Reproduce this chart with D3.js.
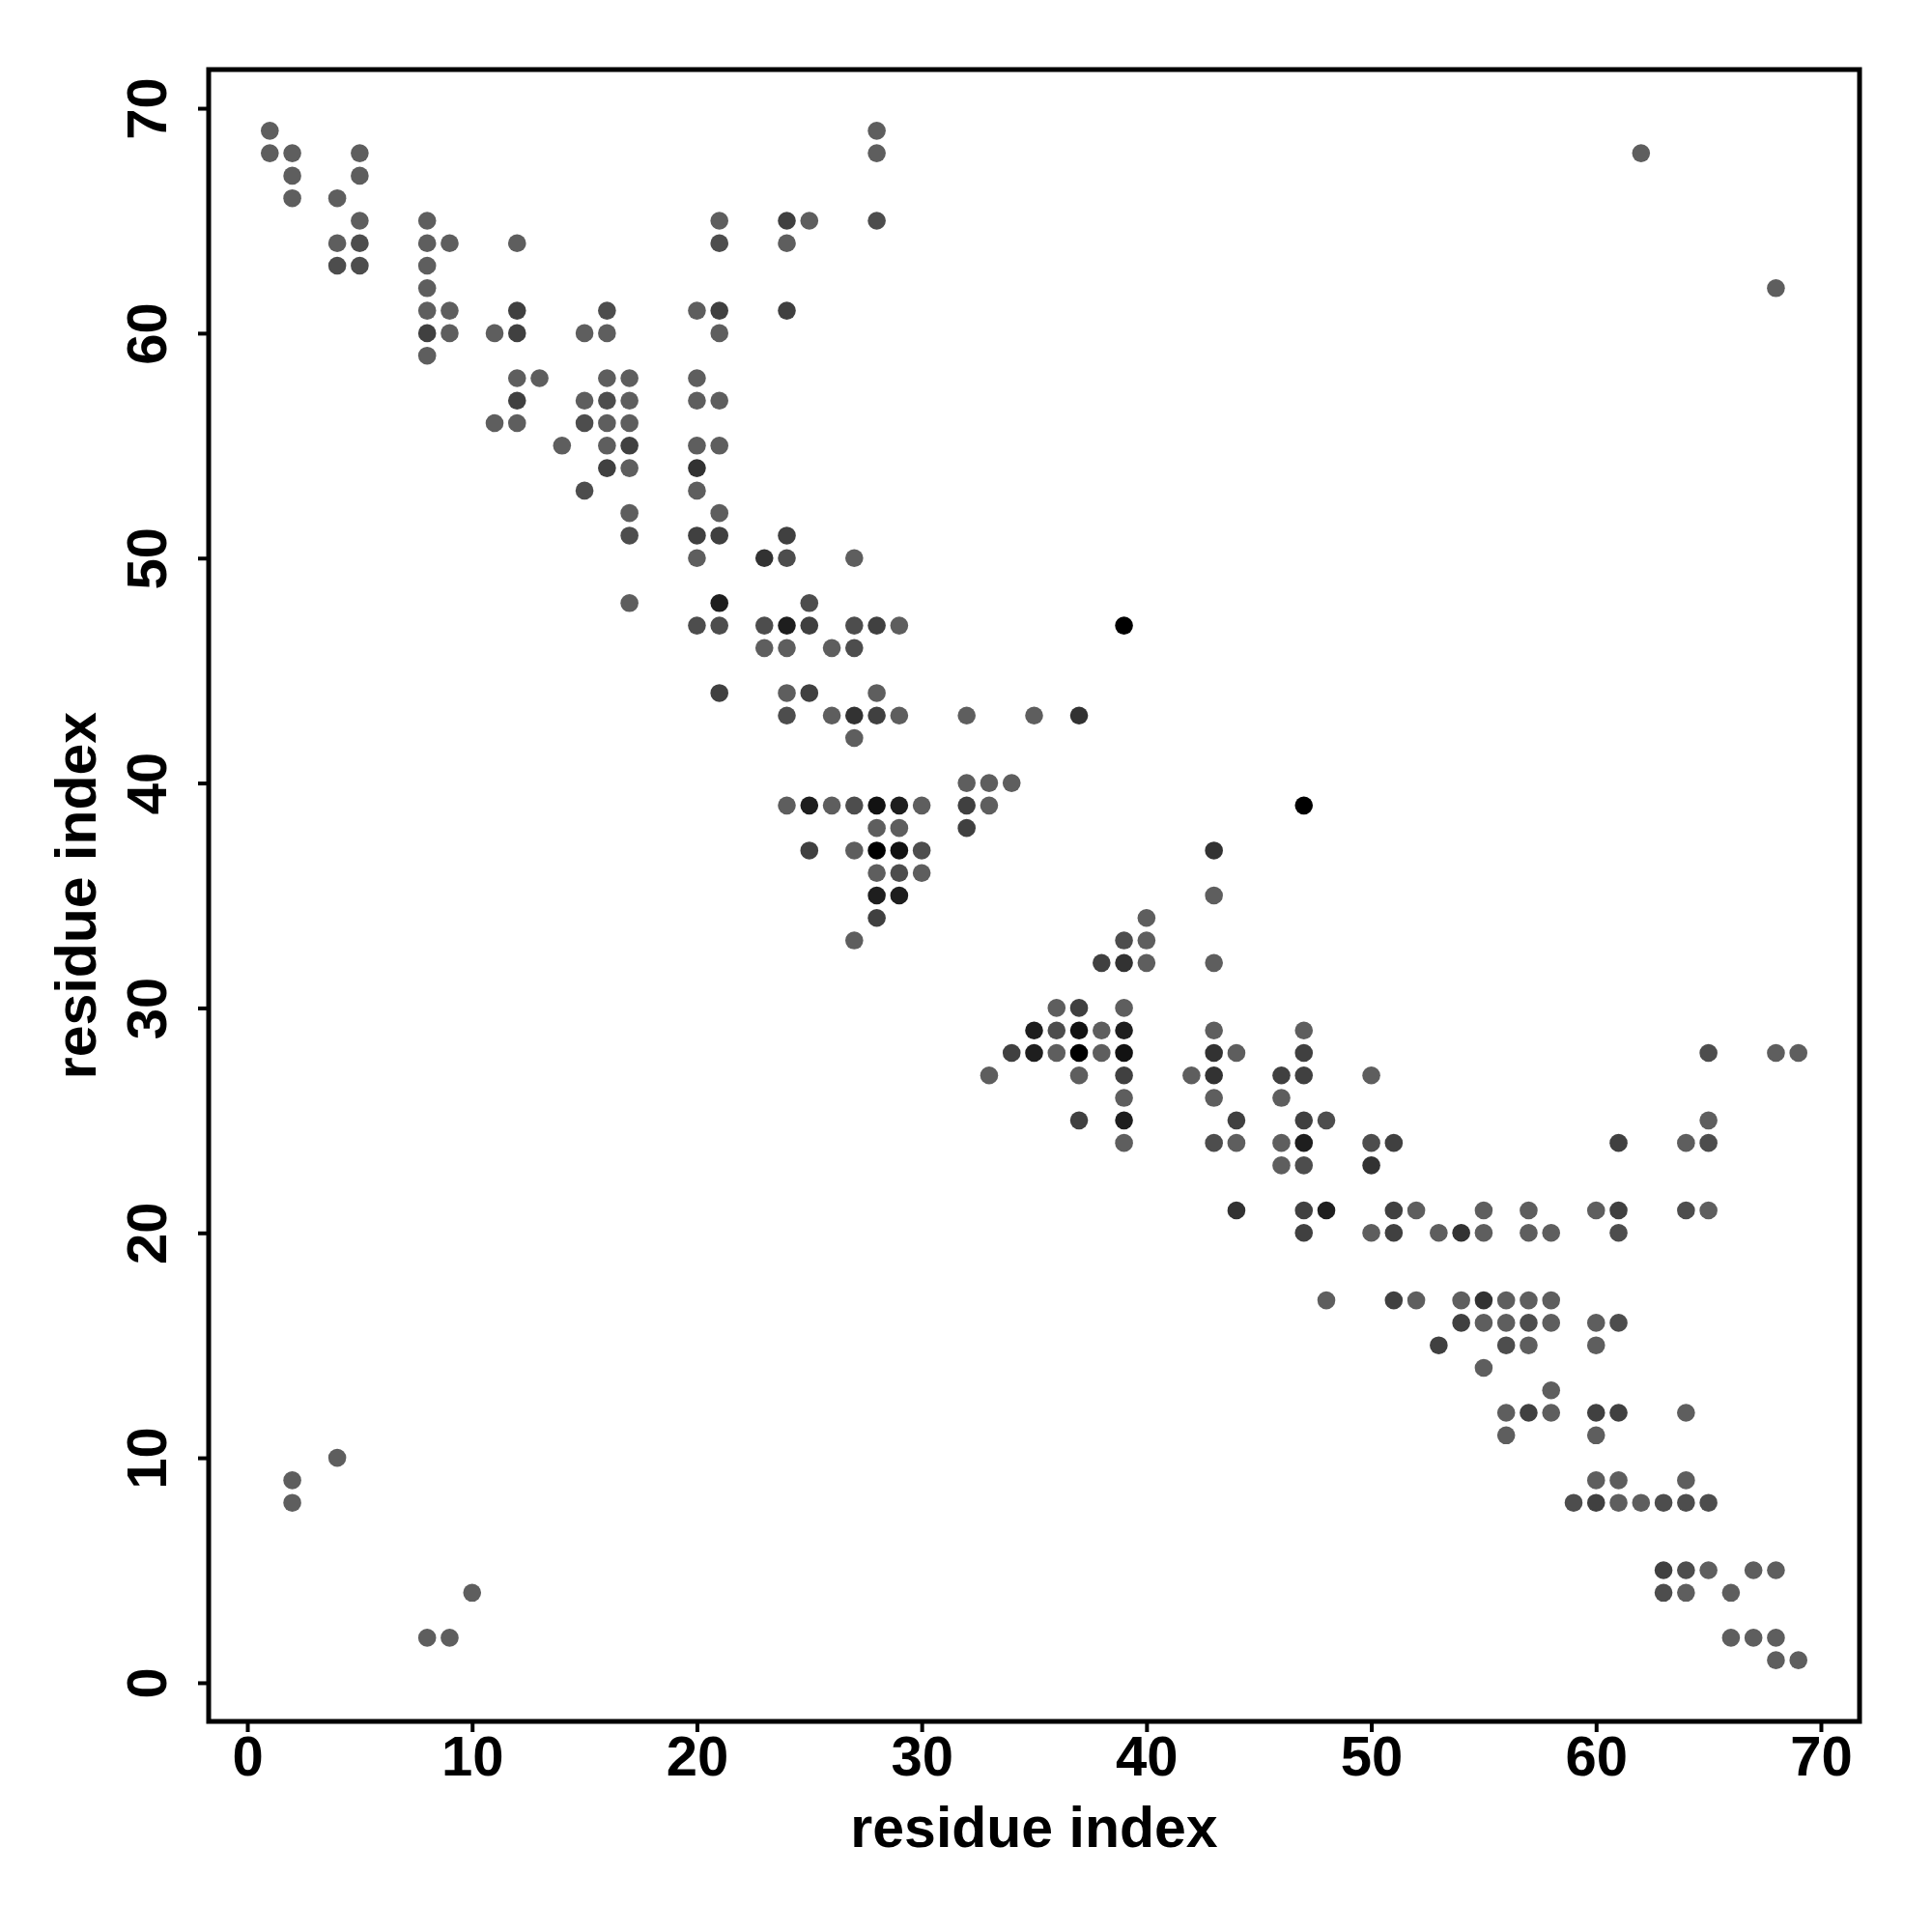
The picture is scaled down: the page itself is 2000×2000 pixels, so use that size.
<!DOCTYPE html>
<html>
<head>
<meta charset="utf-8">
<script src="https://cdn.jsdelivr.net/npm/d3@7/dist/d3.min.js"></script>
<style>
  body { margin: 0; background: #fff; }
  text { font-family: "Liberation Sans", Arial, Helvetica, sans-serif; font-weight: bold; }
</style>
</head>
<body>
<script>
// contact map: residue i (x), residue j (y), contact weight (darker = stronger)
var contactX = [
  1,28,
  1,2,5,28,62,
  2,5,
  2,4,
  5,8,21,24,25,28,
  4,5,8,9,12,21,24,
  4,5,8,
  8,68,
  8,9,12,16,20,21,24,
  8,9,11,12,15,16,21,
  8,
  12,13,16,17,20,
  12,15,16,17,20,21,
  11,12,15,16,17,
  14,16,17,20,21,
  16,17,20,
  15,20,
  17,21,
  17,20,21,24,
  20,23,24,27,
  17,21,25,
  20,21,23,24,25,27,28,29,39,
  23,24,26,27,
  21,24,25,28,
  24,26,27,28,29,32,35,37,
  27,
  32,33,34,
  24,25,26,27,28,29,30,32,33,47,
  28,29,32,
  25,27,28,29,30,43,
  28,29,30,
  28,29,43,
  28,40,
  27,39,40,
  38,39,40,43,
  36,37,39,
  35,36,37,38,39,43,47,
  34,35,36,37,38,39,43,44,47,65,68,69,
  33,37,39,42,43,46,47,50,
  39,43,46,
  37,39,44,47,48,65,
  39,43,44,46,47,50,51,61,64,65,
  46,47,50,
  44,47,48,51,52,55,57,60,61,64,65,
  47,50,51,53,54,55,57,58,61,
  48,51,52,54,55,56,57,58,
  54,55,56,57,58,60,61,
  53,56,57,60,
  55,
  58,
  56,57,58,60,61,64,
  56,60,
  4,
  2,60,61,64,
  2,59,60,61,62,63,64,65,
  63,64,65,67,68,
  10,63,64,66,
  8,9,66,67,68,
  68,69
];
var contactY = [
  69,69,
  68,68,68,68,68,
  67,67,
  66,66,
  65,65,65,65,65,65,
  64,64,64,64,64,64,64,
  63,63,63,
  62,62,
  61,61,61,61,61,61,61,
  60,60,60,60,60,60,60,
  59,
  58,58,58,58,58,
  57,57,57,57,57,57,
  56,56,56,56,56,
  55,55,55,55,55,
  54,54,54,
  53,53,
  52,52,
  51,51,51,51,
  50,50,50,50,
  48,48,48,
  47,47,47,47,47,47,47,47,47,
  46,46,46,46,
  44,44,44,44,
  43,43,43,43,43,43,43,43,
  42,
  40,40,40,
  39,39,39,39,39,39,39,39,39,39,
  38,38,38,
  37,37,37,37,37,37,
  36,36,36,
  35,35,35,
  34,34,
  33,33,33,
  32,32,32,32,
  30,30,30,
  29,29,29,29,29,29,29,
  28,28,28,28,28,28,28,28,28,28,28,28,
  27,27,27,27,27,27,27,27,
  26,26,26,
  25,25,25,25,25,25,
  24,24,24,24,24,24,24,24,24,24,
  23,23,23,
  21,21,21,21,21,21,21,21,21,21,21,
  20,20,20,20,20,20,20,20,20,
  17,17,17,17,17,17,17,17,
  16,16,16,16,16,16,16,
  15,15,15,15,
  14,
  13,
  12,12,12,12,12,12,
  11,11,
  10,
  9,9,9,9,
  8,8,8,8,8,8,8,8,
  5,5,5,5,5,
  4,4,4,4,
  2,2,2,2,2,
  1,1
];
var contactW = [
  1,1,
  1,1,1,1,1,
  1,1,
  1,1,
  1,1,1,3,1,2,
  1,2,1,1,1,2,1,
  2,2,1,
  1,1,
  1,1,3,2,1,3,3,
  3,1,1,3,1,1,1,
  1,
  1,1,1,1,1,
  3,1,2,1,1,1,
  1,1,2,1,1,
  1,1,3,1,1,
  3,1,4,
  2,1,
  1,1,
  2,3,3,3,
  1,4,2,1,
  1,5,2,
  2,2,2,5,3,2,3,1,7,
  1,1,1,2,
  3,1,3,1,
  2,1,4,3,1,1,1,4,
  1,
  1,1,1,
  1,5,1,2,6,5,1,3,1,7,
  1,1,3,
  3,1,7,6,2,4,
  1,2,1,
  5,5,1,
  3,1,
  1,2,1,
  3,4,1,1,
  1,3,1,
  5,2,6,1,5,1,1,
  3,5,1,7,1,6,4,1,3,2,1,1,
  1,1,3,1,4,3,3,1,
  1,1,1,
  3,5,3,3,2,1,
  1,2,1,1,5,2,3,3,1,2,
  1,2,4,
  4,3,5,3,1,1,1,1,3,2,1,
  3,1,3,1,4,1,1,1,2,
  1,3,1,1,4,1,1,1,
  3,1,1,2,1,1,2,
  3,2,1,1,
  1,
  1,
  1,3,1,3,3,1,
  1,1,
  1,
  1,1,1,1,
  1,2,3,1,1,2,2,2,
  3,2,1,1,1,
  1,2,1,1,
  1,1,1,1,1,
  1,1
];
var tickVals = [0, 10, 20, 30, 40, 50, 60, 70];
var axisTitle = "residue index";

drawChart();

function drawChart() {
  var width = 2000, height = 2000;
  var plotLeft = 216, plotRight = 1925, plotTop = 72, plotBottom = 1782;

  var svg = d3.select("body").append("svg")
    .attr("width", width)
    .attr("height", height);

  var x = d3.scaleLinear().domain([-1.72, 71.72]).range([plotLeft, plotRight]);
  var y = d3.scaleLinear().domain([-1.72, 71.72]).range([plotBottom, plotTop]);
  var grey = d3.scaleLinear()
    .domain([1, 2, 3, 4, 5, 6, 7])
    .range(["#5e5e5e", "#4d4d4d", "#404040", "#323232", "#1e1e1e", "#121212", "#000000"]);

  var data = contactX.map(function(d, i) {
    return { i: d, j: contactY[i], w: contactW[i] };
  });

  svg.append("g").selectAll("circle")
    .data(data).enter()
    .append("circle")
    .attr("cx", function(d) { return x(d.i); })
    .attr("cy", function(d) { return y(d.j); })
    .attr("r", 9.3)
    .attr("fill", function(d) { return grey(d.w); });

  // x axis
  var gx = svg.append("g")
    .attr("transform", "translate(0," + plotBottom + ")")
    .call(d3.axisBottom(x).tickValues(tickVals).tickSize(11).tickPadding(4));
  gx.select(".domain").remove();
  gx.selectAll("line").attr("stroke", "#000").attr("stroke-width", 4);
  gx.selectAll("text")
    .attr("fill", "#000")
    .attr("font-size", 58)
    .attr("font-family", "Liberation Sans, Arial, sans-serif")
    .attr("font-weight", "bold");

  // y axis, labels turned parallel to the axis
  var gy = svg.append("g")
    .attr("transform", "translate(" + plotLeft + ",0)")
    .call(d3.axisLeft(y).tickValues(tickVals).tickSize(11));
  gy.select(".domain").remove();
  gy.selectAll("line").attr("stroke", "#000").attr("stroke-width", 4);
  gy.selectAll("text")
    .attr("fill", "#000")
    .attr("font-size", 58)
    .attr("font-family", "Liberation Sans, Arial, sans-serif")
    .attr("font-weight", "bold")
    .attr("text-anchor", "middle")
    .attr("transform", "rotate(-90)")
    .attr("x", 0)
    .attr("y", -44)
    .attr("dy", 0);

  // box
  svg.append("rect")
    .attr("x", plotLeft).attr("y", plotTop)
    .attr("width", plotRight - plotLeft).attr("height", plotBottom - plotTop)
    .attr("fill", "none")
    .attr("stroke", "#000")
    .attr("stroke-width", 5);

  svg.append("text")
    .attr("x", (plotLeft + plotRight) / 2)
    .attr("y", 1912)
    .attr("text-anchor", "middle")
    .attr("font-size", 59)
    .text(axisTitle);

  svg.append("text")
    .attr("transform", "translate(99," + (plotTop + plotBottom) / 2 + ") rotate(-90)")
    .attr("text-anchor", "middle")
    .attr("font-size", 59)
    .text(axisTitle);
}
</script>
</body>
</html>
